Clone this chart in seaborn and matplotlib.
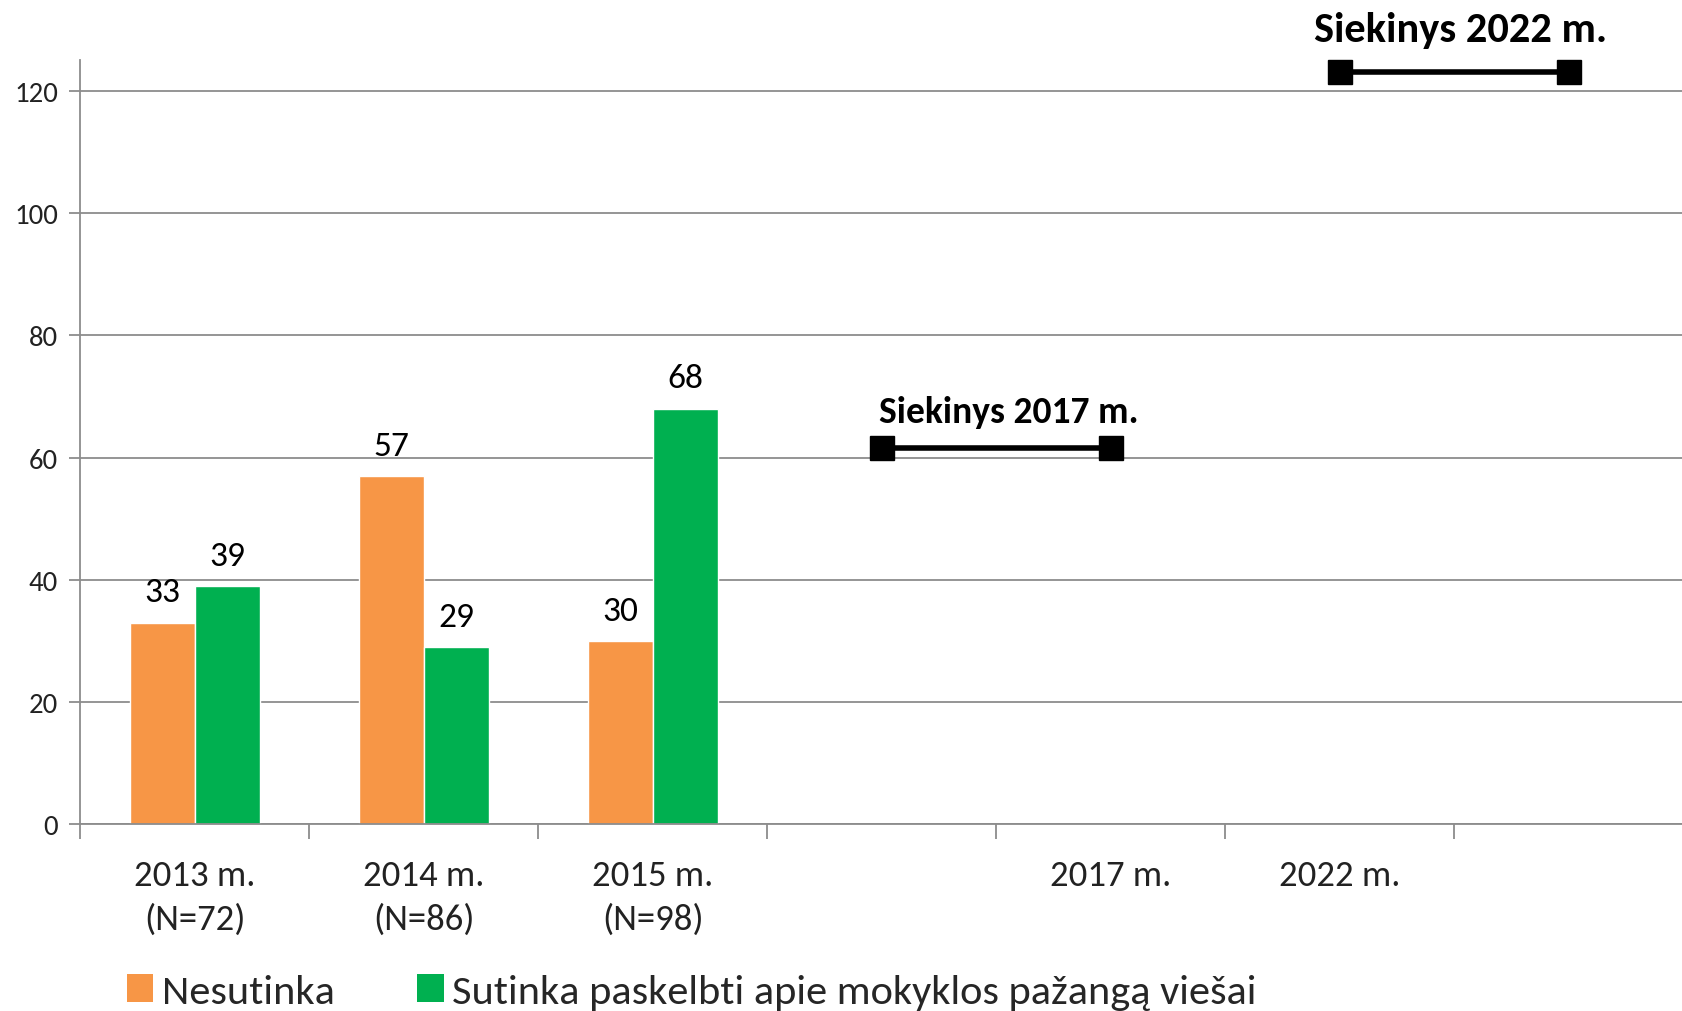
import matplotlib
matplotlib.use("Agg")
import matplotlib.pyplot as plt
from matplotlib import font_manager as fm
from matplotlib.patches import Patch
import seaborn as sns
import pandas as pd
import numpy as np

# ---- data ----
categories = ["2013 m.\n(N=72)", "2014 m.\n(N=86)", "2015 m.\n(N=98)", " ", "2017 m.", "2022 m.", "  "]
series_names = ["Nesutinka", "Sutinka paskelbti apie mokyklos pažangą viešai"]
nesutinka = [33, 57, 30]
sutinka = [39, 29, 68]
target_labels = ["Siekinys 2017 m.", "Siekinys 2022 m."]
target_values = [61.5, 123]
target_slots = [[" ", "2017 m."], ["2022 m.", "  "]]
y_ticks = [0, 20, 40, 60, 80, 100, 120]

colors = ["#F79646", "#00B050"]

sns.set_theme(style="white")
names = {f.name for f in fm.fontManager.ttflist}
font = "DejaVu Sans"
for cand in ["Carlito", "Liberation Sans Narrow", "Open Sans", "Liberation Sans"]:
    if cand in names:
        font = cand
        break
plt.rcParams["font.family"] = [font, "DejaVu Sans"]

df = pd.DataFrame({
    "cat": categories[:3] * 2,
    "series": [series_names[0]] * 3 + [series_names[1]] * 3,
    "value": nesutinka + sutinka,
})

fig = plt.figure(figsize=(16.83, 10.12), dpi=100)
ax = fig.add_axes([0.0478, 0.1843, 0.9522, 0.7554])

sns.barplot(data=df, x="cat", y="value", hue="series", order=categories,
            hue_order=series_names, palette=colors, width=0.57, saturation=1,
            legend=False, ax=ax)

for cont in ax.containers:
    ax.bar_label(cont, labels=[f"{int(v)}" for v in cont.datavalues],
                 padding=11, fontsize=25.5, color="#000000")

# target lines
xpos = {c: i for i, c in enumerate(categories)}
for lbl, val, slots, fs, off, dx in zip(target_labels, target_values, target_slots,
                                        [27, 30.5], [3.3, 3.9], [0.055, 0.03]):
    xs = [xpos[s] for s in slots]
    ax.plot(xs, [val, val], color="black", lw=4, marker="s", markersize=17,
            solid_capstyle="butt", zorder=5, clip_on=False)
    ax.text(np.mean(xs) + dx, val + off, lbl, ha="center", va="bottom",
            fontsize=fs, fontweight="bold", color="black", clip_on=False)

ax.set_xlim(-0.5, len(categories) - 0.5)
ax.set_ylim(0, 125)
ax.set_yticks(y_ticks)
ax.set_yticklabels([str(t) for t in y_ticks], fontsize=20.7, color="#222222")
ax.set_xticks(range(len(categories)))
ax.set_xticklabels(categories, fontsize=26.5, color="#222222", linespacing=1.44)
ax.set_xticks(np.arange(-0.5, len(categories) - 0.4, 1), minor=True)
ax.tick_params(axis="x", which="major", length=0, pad=25)
ax.tick_params(axis="x", which="minor", length=11, width=1.3, color="#8c8c8c", bottom=True)
ax.tick_params(axis="y", which="major", length=8, width=1.3, color="#8c8c8c", left=True, pad=8)

ax.set_xlabel("")
ax.set_ylabel("")
ax.grid(axis="y", color="#8c8c8c", lw=1.3)
ax.set_axisbelow(True)
for s in ["top", "right"]:
    ax.spines[s].set_visible(False)
for s in ["left", "bottom"]:
    ax.spines[s].set_color("#8c8c8c")
    ax.spines[s].set_linewidth(1.3)

handles = [Patch(facecolor=c, edgecolor="none") for c in colors]
fig.legend(handles, series_names, loc="center left", bbox_to_anchor=(0.0755, 0.019),
           ncol=2, frameon=False, fontsize=30.5, handlelength=0.62, handleheight=0.62,
           handletextpad=0.2, columnspacing=1.95, borderaxespad=0, borderpad=0)

fig.savefig("out.png", dpi=100)
